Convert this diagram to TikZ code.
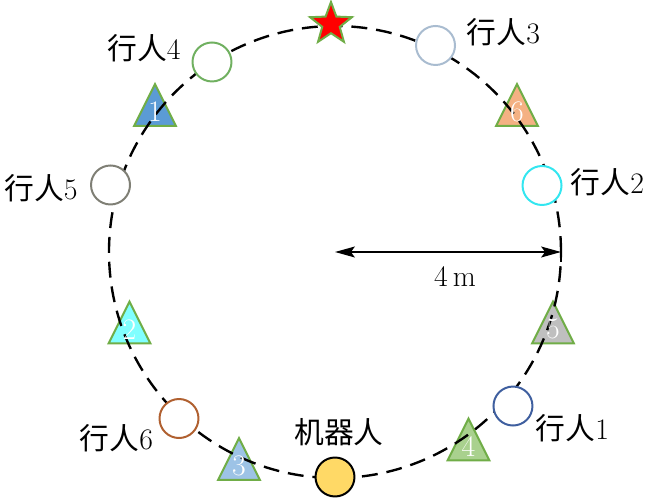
\documentclass[tikz,border=0pt]{standalone}
\usepackage{fontspec}
\newfontfamily\cjk{Noto Sans CJK SC}
\usetikzlibrary{shapes.geometric,arrows.meta}
\definecolor{triedge}{HTML}{70AD47}
\definecolor{triA}{HTML}{5B9BD5}
\definecolor{triB}{HTML}{80FFFF}
\definecolor{triC}{HTML}{9DC3E6}
\definecolor{triD}{HTML}{A9D18E}
\definecolor{triE}{HTML}{BFBFBF}
\definecolor{triF}{HTML}{F4B183}
\definecolor{walkA}{HTML}{3F5F9F}
\definecolor{walkB}{HTML}{33E6F0}
\definecolor{walkC}{HTML}{A9BCD0}
\definecolor{walkD}{HTML}{70B060}
\definecolor{walkE}{HTML}{7F7F75}
\definecolor{walkF}{HTML}{B06030}
\definecolor{robotfill}{HTML}{FFD966}
\tikzset{
  walker/.style={circle,draw,line width=1pt,fill=white,minimum size=0.69cm,inner sep=0pt},
  lbl/.style={font=\fontsize{15}{18}\selectfont,inner sep=0pt},
  num/.style={text=white,font=\fontsize{15}{18}\selectfont,inner sep=0pt},
  marker/.style={draw=triedge,line width=1pt},
}
\begin{document}
\begin{tikzpicture}
  \useasboundingbox (-5.929,-4.389) rectangle (5.575,4.460);
  % triangles
  \foreach \n/\x/\y/\c in {1/-3.186/2.602/triA, 2/-3.637/-1.248/triB, 3/-1.699/-3.664/triC,
      4/2.363/-3.319/triD, 5/3.858/-1.248/triE, 6/3.221/2.602/triF}
    \draw[marker,fill=\c] (\x-0.37,\y-0.37) -- (\x,\y+0.37) -- (\x+0.37,\y-0.37) -- cycle;
  \draw[dash pattern=on 8pt off 4.5pt, line width=1.2pt] (0,0) circle (4);
  \foreach \n/\x/\y in {1/-3.186/2.602, 2/-3.637/-1.248, 3/-1.699/-3.664,
      4/2.363/-3.319, 5/3.858/-1.248, 6/3.221/2.602}
    \node[num] (n\n) at (\x,\y-0.12) {\n};
  % pedestrians
  \node[walker,draw=walkA] (p1) at (3.150,-2.726) {};
  \node[walker,draw=walkB] (p2) at (3.664,1.177) {};
  \node[walker,draw=walkC] (p3) at (1.779,3.655) {};
  \node[walker,draw=walkD] (p4) at (-2.177,3.363) {};
  \node[walker,draw=walkE] (p5) at (-3.973,1.186) {};
  \node[walker,draw=walkF] (p6) at (-2.761,-2.947) {};
  \node[lbl] (l1) at (4.204,-3.115) {{\cjk 行人}1};
  \node[lbl] (l2) at (4.823,1.239) {{\cjk 行人}2};
  \node[lbl] (l3) at (2.982,3.885) {{\cjk 行人}3};
  \node[lbl] (l4) at (-3.381,3.611) {{\cjk 行人}4};
  \node[lbl] (l5) at (-5.204,1.133) {{\cjk 行人}5};
  \node[lbl] (l6) at (-3.867,-3.292) {{\cjk 行人}6};
  % robot and goal
  \node[walker,draw=black,fill=robotfill] (robot) at (0,-3.982) {};
  \node[lbl] (lrobot) at (0.071,-3.186) {\cjk 机器人};
  \node[star,star points=5,star point ratio=2.4,draw=triedge,fill=red,line width=1pt,
    minimum size=0.78cm,inner sep=0pt] (goal) at (-0.071,4.035) {};
  % radius
  \coordinate (o) at (0,0);
  \coordinate (r) at (4,0);
  \draw[{Stealth[length=10pt,width=5.5pt,inset=2pt]}-{Stealth[length=10pt,width=5.5pt,inset=2pt]},
    line width=0.9pt] (o) -- (r);
  \draw[line width=1pt] ([yshift=0.17cm]r) -- ([yshift=-0.17cm]r);
  \node[lbl] (len) at (2.124,-0.442) {4\,m};
\end{tikzpicture}
\end{document}
